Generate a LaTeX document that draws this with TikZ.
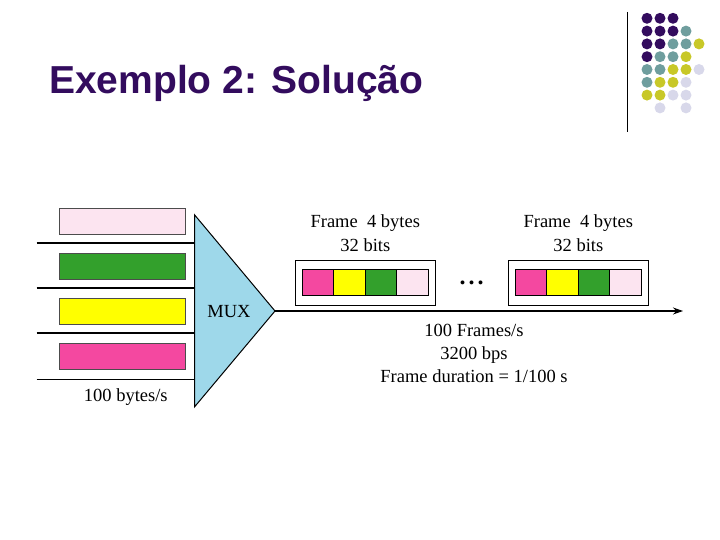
\documentclass[tikz,border=0pt]{standalone}
\usepackage{fontspec}
\setmainfont{Liberation Serif}
\newfontfamily\titlefont{Liberation Sans}
\usetikzlibrary{arrows.meta,positioning}
\definecolor{slidepurple}{RGB}{51,12,94}
\definecolor{dotteal}{RGB}{111,158,158}
\definecolor{dotyellow}{RGB}{200,200,40}
\definecolor{dotlilac}{RGB}{216,216,234}
\definecolor{muxblue}{RGB}{158,216,234}
\definecolor{chpink}{RGB}{244,72,160}
\definecolor{chyellow}{RGB}{255,255,0}
\definecolor{chgreen}{RGB}{51,160,44}
\definecolor{chlight}{RGB}{252,228,240}
\tikzset{
  chbar/.style={rectangle, draw=black!70, line width=0.8pt, minimum width=126pt,
    minimum height=26pt, inner sep=0pt},
  slot/.style={rectangle, draw=black, line width=0.8pt, minimum width=31.5pt,
    minimum height=25.7pt, inner sep=0pt},
  framebox/.style={rectangle, draw=black, line width=0.8pt, minimum width=140pt,
    minimum height=45pt, inner sep=0pt},
  lbl/.style={font=\fontsize{18.5}{23.3}\selectfont, inner sep=0pt, align=center},
  outarr/.style={-{Stealth[length=10pt,width=7pt]}, line width=1.1pt},
  logodot/.style={circle, inner sep=0pt, minimum size=11pt},
}

\begin{document}
\begin{tikzpicture}[x=1pt,y=-1pt]
    \useasboundingbox (0,0) rectangle (720,540);
    \node[anchor=base west, inner sep=0pt, text=slidepurple,
      font=\titlefont\bfseries\fontsize{39}{46}\selectfont] (title) at (49,94) {Exemplo 2: Solução};
    \draw[line width=1pt] (627,12) -- (627,132);
    \foreach \c/\r/\col in {1/1/slidepurple, 2/1/slidepurple, 3/1/slidepurple,
        1/2/slidepurple, 2/2/slidepurple, 3/2/slidepurple, 4/2/dotteal,
        1/3/slidepurple, 2/3/slidepurple, 3/3/dotteal, 4/3/dotteal, 5/3/dotyellow,
        1/4/slidepurple, 2/4/dotteal, 3/4/dotteal, 4/4/dotyellow,
        1/5/dotteal, 2/5/dotteal, 3/5/dotyellow, 4/5/dotyellow, 5/5/dotlilac,
        1/6/dotteal, 2/6/dotyellow, 3/6/dotyellow, 4/6/dotlilac,
        1/7/dotyellow, 2/7/dotyellow, 3/7/dotlilac, 4/7/dotlilac,
        2/8/dotlilac, 4/8/dotlilac}
      \node[logodot, fill=\col] (dot\c\r) at ({634+13*\c},{5.5+12.8*\r}) {};
    % input channels
    \foreach \i/\col/\y in {1/chlight/221.3, 2/chgreen/266.3, 3/chyellow/311.3, 4/chpink/356.7}
      \node[chbar, fill=\col] (ch\i) at (122.3,\y) {};
    \coordinate (muxtop) at (194.7,215);
    \coordinate (muxbot) at (194.7,406.7);
    \coordinate (muxtip) at (275,311);
    \draw[fill=muxblue, line width=1pt] (muxtop) -- (muxtip) -- (muxbot) -- cycle;
    \node[lbl] (mux) at (229,311.7) {MUX};
    \foreach \i/\y/\w in {1/243.3/2pt, 2/288.3/2pt, 3/333.3/2pt, 4/379.3/1pt}{
      \coordinate (in\i) at (36.7,\y);
      \coordinate (inend\i) at (194.7,\y);
      \draw[line width=\w] (in\i) -- (inend\i);
    }
    \node[lbl] (inrate) at (125.8,396.7) {100 bytes/s};
    % output link
    \coordinate (outend) at (683,311);
    \draw[outarr] (muxtip) -- (outend);
    \foreach \f/\x in {1/365.3, 2/578.3}{
      \node[framebox] (frame\f) at (\x,282.5) {};
      \foreach \k/\col in {1/chpink, 2/chyellow, 3/chgreen, 4/chlight}
        \node[slot, fill=\col] (slot\f\k) at ({\x+31.5*(\k-2.5)},282.2) {};
      \node[lbl] (flbl\f) at (\x,233.3) {Frame\ \ 4 bytes\\32 bits};
    }
    \node[lbl, font=\fontsize{24}{26}\selectfont\bfseries] (more) at (471.7,282.5) {.\hspace{3pt}.\hspace{3pt}.};
    \node[lbl] (rate) at (474,353.3) {100 Frames/s\\3200 bps\\Frame duration = 1/100 s};
\end{tikzpicture}
\end{document}
